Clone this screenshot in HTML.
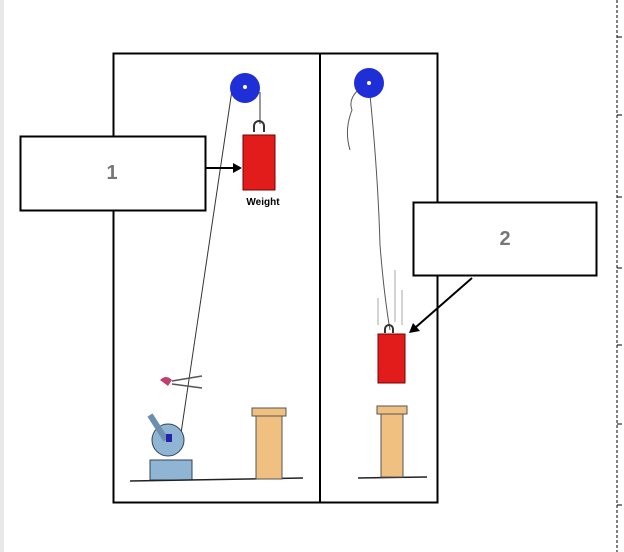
<!DOCTYPE html>
<html><head><style>body{margin:0;background:#fff}svg{display:block}</style></head><body>
<svg width="624" height="552" viewBox="0 0 624 552" xmlns="http://www.w3.org/2000/svg">
<rect x="0" y="0" width="4" height="552" fill="#e8e8e8"/>
<line x1="617" y1="0" x2="617" y2="552" stroke="#000" stroke-width="1" stroke-dasharray="3,2"/>
<g stroke="#000" stroke-width="1">
<line x1="617" y1="37" x2="622" y2="37"/><line x1="617" y1="115" x2="622" y2="115"/>
<line x1="617" y1="197" x2="622" y2="197"/><line x1="617" y1="268" x2="622" y2="268"/>
<line x1="617" y1="345" x2="622" y2="345"/><line x1="617" y1="424" x2="622" y2="424"/>
<line x1="617" y1="505" x2="622" y2="505"/></g>
<rect x="113.5" y="53.5" width="324" height="449" fill="#fff" stroke="#000" stroke-width="2"/>
<line x1="320" y1="53" x2="320" y2="502" stroke="#000" stroke-width="2"/>
<!-- left panel -->
<line x1="232" y1="90" x2="180" y2="440" stroke="#333" stroke-width="1"/>
<line x1="260" y1="92" x2="260" y2="124" stroke="#333" stroke-width="1"/>
<circle cx="245" cy="88" r="15" fill="#1f2fd8"/><circle cx="245" cy="87" r="2" fill="#fff"/>
<path d="M254 132 v-6 a5 5 0 0 1 10 0 v6" fill="none" stroke="#333" stroke-width="2"/>
<rect x="243" y="135" width="32" height="55" fill="#e21b1b" stroke="#700" stroke-width="1"/>
<text x="263" y="205" font-family="Liberation Sans, sans-serif" font-size="10" font-weight="bold" text-anchor="middle">Weight</text>
<path d="M160 380 q6 -6 12 0 l-4 6 z" fill="#c0406a"/>
<path d="M172 381 l30 -5 M172 384 l30 4" stroke="#555" stroke-width="1.5" fill="none"/>
<circle cx="168" cy="440" r="16" fill="#8fb4d4" stroke="#345" stroke-width="1"/>
<rect x="150" y="460" width="42" height="20" fill="#8fb4d4" stroke="#345"/>
<line x1="150" y1="415" x2="166" y2="440" stroke="#6c8fb0" stroke-width="6"/>
<rect x="166" y="434" width="6" height="8" fill="#22a"/>
<line x1="130" y1="481" x2="303" y2="478" stroke="#222" stroke-width="1.5"/>
<rect x="256" y="412" width="26" height="67" fill="#f0c080" stroke="#555"/>
<rect x="252" y="408" width="34" height="8" fill="#f0c080" stroke="#555"/>
<!-- right panel -->
<path d="M370 95 q8 80 10 150 q4 50 10 85" fill="none" stroke="#555" stroke-width="1"/>
<path d="M358 90 q-10 10 -6 20 q-8 20 -2 40" fill="none" stroke="#555" stroke-width="1"/>
<circle cx="369" cy="83" r="15" fill="#1f2fd8"/><circle cx="369" cy="83" r="2" fill="#fff"/>
<g stroke="#aaa" stroke-width="1"><line x1="378" y1="298" x2="378" y2="325"/><line x1="395" y1="270" x2="395" y2="322"/><line x1="402" y1="290" x2="402" y2="325"/></g>
<path d="M385 333 v-4 a4 4 0 0 1 8 0 v4" fill="none" stroke="#333" stroke-width="2"/>
<rect x="378" y="334" width="27" height="49" fill="#e21b1b" stroke="#700"/>
<line x1="358" y1="478" x2="427" y2="477" stroke="#222" stroke-width="1.5"/>
<rect x="381" y="410" width="22" height="67" fill="#f0c080" stroke="#555"/>
<rect x="377" y="406" width="30" height="8" fill="#f0c080" stroke="#555"/>
<!-- callouts -->
<rect x="20.5" y="136.5" width="185" height="74" fill="#fff" stroke="#000" stroke-width="2"/>
<text x="112" y="179" font-family="Liberation Sans, sans-serif" font-size="20" font-weight="bold" fill="#777" text-anchor="middle">1</text>
<rect x="413.5" y="202.5" width="183" height="73" fill="#fff" stroke="#000" stroke-width="2"/>
<text x="505" y="245" font-family="Liberation Sans, sans-serif" font-size="20" font-weight="bold" fill="#777" text-anchor="middle">2</text>
<line x1="206" y1="168" x2="234" y2="168" stroke="#000" stroke-width="2"/>
<polygon points="242,168 233,163 233,173" fill="#000"/>
<line x1="472" y1="278" x2="416" y2="327" stroke="#000" stroke-width="2"/>
<polygon points="409,333 413,323 420,331" fill="#000"/>
</svg>
</body></html>
